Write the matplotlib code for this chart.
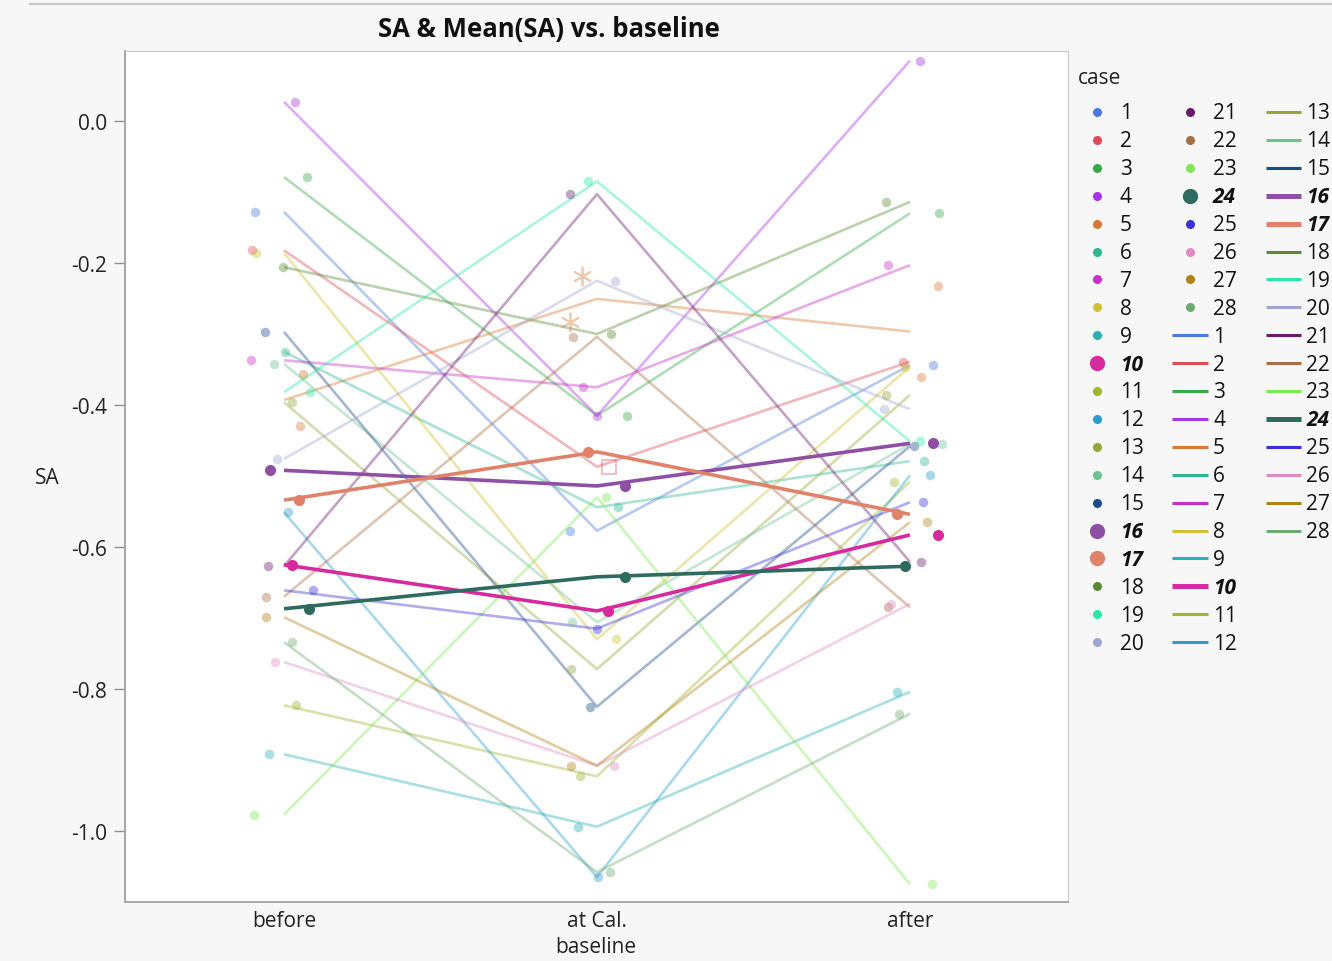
import numpy as np
import pandas as pd
import matplotlib
matplotlib.use("Agg")
import matplotlib.pyplot as plt
from matplotlib.lines import Line2D

plt.rcParams['font.family'] = ['Open Sans', 'DejaVu Sans']

# ---------------- data ----------------
baselines = ["before", "at Cal.", "after"]
cases = list(range(1, 29))
highlight = [10, 16, 17, 24]

# one SA value per case and baseline (cases 1..28)
sa_before = [-0.128, -0.182, -0.079, 0.027, -0.356, -0.325, -0.337, -0.186, -0.892, -0.625,
             -0.823, -0.551, -0.396, -0.342, -0.297, -0.492, -0.534, -0.206, -0.382, -0.476,
             -0.627, -0.670, -0.977, -0.687, -0.661, -0.762, -0.699, -0.734]
sa_atcal = [-0.577, -0.487, -0.415, -0.415, -0.218, -0.544, -0.375, -0.730, -0.994, -0.690,
            -0.923, -1.065, -0.772, -0.706, -0.825, -0.514, -0.466, -0.300, -0.085, -0.225,
            -0.103, -0.304, -0.530, -0.642, -0.715, -0.908, -0.908, -1.058]
sa_after = [-0.344, -0.339, -0.130, 0.085, -0.232, -0.479, -0.203, -0.346, -0.804, -0.583,
            -0.508, -0.499, -0.386, -0.455, -0.458, -0.454, -0.554, -0.114, -0.451, -0.406,
            -0.621, -0.685, -1.075, -0.627, -0.537, -0.680, -0.565, -0.835]

# extra (repeated) measurements
extra_case = [5, 5, 5]
extra_base = [0, 1, 2]
extra_sa = [-0.430, -0.283, -0.361]

# horizontal jitter of the points (fraction of category spacing)
jit_before = [-0.093, -0.102, 0.073, 0.035, 0.061, 0.003, -0.105, -0.089, -0.048, 0.026,
              0.038, 0.013, 0.026, -0.032, -0.061, -0.045, 0.048, -0.003, 0.083, -0.022,
              -0.051, -0.058, -0.096, 0.080, 0.093, -0.029, -0.058, 0.026]
jit_atcal = [-0.086, 0.038, 0.096, 0.0, -0.048, 0.067, -0.045, 0.061, -0.061, 0.035,
             -0.054, 0.003, -0.083, -0.080, -0.022, 0.089, -0.029, 0.045, -0.029, 0.058,
             -0.086, -0.077, 0.029, 0.089, 0.0, 0.054, -0.083, 0.042]
jit_after = [0.073, -0.022, 0.093, 0.032, 0.089, 0.045, -0.070, -0.016, -0.042, 0.089,
             -0.051, 0.064, -0.077, 0.102, 0.013, 0.073, -0.042, -0.077, 0.032, -0.083,
             0.035, -0.070, 0.070, -0.016, 0.042, -0.061, 0.054, -0.035]
extra_jit = [0.051, -0.086, 0.035]

colors = ['#4A78DE', '#DC4B5A', '#38A849', '#A834E2', '#D87A35', '#2DB893', '#C72FC9',
          '#CEC235', '#2AB0B5', '#D62A9E', '#9DB530', '#2E9BCB', '#98A53A', '#6DC390',
          '#1F4A8A', '#8E4FA5', '#E0826A', '#5B8A35', '#2BE8A7', '#9EA6CF', '#6B1A6A',
          '#A66E46', '#7FE856', '#2E6B5E', '#3A2FD8', '#E08BC3', '#AF8315', '#70AA73']

# rows with a non-default marker
marker_override = {(2, 1): 's', (5, 1): (6, 2, 0)}

# ---------------- table ----------------
rows = []
for i, c in enumerate(cases):
    rows.append((c, 0, sa_before[i], jit_before[i]))
    rows.append((c, 1, sa_atcal[i], jit_atcal[i]))
    rows.append((c, 2, sa_after[i], jit_after[i]))
for c, b, v, j in zip(extra_case, extra_base, extra_sa, extra_jit):
    rows.append((c, b, v, j))
df = pd.DataFrame(rows, columns=["case", "base", "SA", "jit"])
means = df.groupby(["case", "base"])["SA"].mean().unstack()

W, H = 1332, 962
FS = 15
fig = plt.figure(figsize=(W / 100, H / 100), dpi=100, facecolor='#F7F7F7')
ax = fig.add_axes([125 / W, 1 - 903 / H, (1068 - 125) / W, (903 - 52) / H])
ax.set_facecolor('white')
ax.set_xlim(-0.508, 2.505)
ax.set_ylim(-1.1, 0.0986)

FADE = 0.4


def draw_case(c, strong):
    col = colors[c - 1]
    alpha = 1.0 if strong else FADE
    lw = 2.6 if strong else 1.9
    z = 5 if strong else 2
    ax.plot(range(3), means.loc[c].values, color=col, alpha=alpha, lw=lw, zorder=z,
            solid_capstyle='butt')
    sub = df[df.case == c]
    for _, r in sub.iterrows():
        mk = marker_override.get((c, int(r.base)), 'o')
        x = r.base + r.jit
        if mk == 's':
            ax.plot(x, r.SA, marker='s', ms=10, mfc='none', mec=col, mew=1.3,
                    alpha=alpha, zorder=z + 1)
        elif mk != 'o':
            ax.plot(x, r.SA, marker=mk, ms=14, color=col, mew=1.3, alpha=alpha,
                    zorder=z + 1)
        else:
            ax.plot(x, r.SA, 'o', ms=8 if strong else 6.8, color=col, mec='none',
                    alpha=alpha, zorder=z + 1)


for c in cases:
    if c not in highlight:
        draw_case(c, False)
for c in highlight:
    draw_case(c, True)

# axes styling
for s in ['top', 'right']:
    ax.spines[s].set_color('#C8C8C8')
for s in ['left', 'bottom']:
    ax.spines[s].set_color('#A0A0A0')
    ax.spines[s].set_linewidth(1.3)
yt = np.arange(-1.0, 0.01, 0.2)
ax.set_xticks(range(3))
ax.set_xticklabels(baselines)
ax.set_yticks(yt)
ax.set_yticklabels([f"{v:.1f}" if abs(v) > 1e-9 else "0.0" for v in yt])
ax.tick_params(axis='x', length=0, pad=6, labelsize=FS, colors='#222222')
ax.tick_params(axis='y', length=8, width=1, color='#909090', pad=5, labelsize=FS,
               labelcolor='#222222')

fig.text(549 / W, 1 - 30 / H, "SA & Mean(SA) vs. baseline", ha='center', va='center',
         fontsize=18.5, fontweight='bold', color='#111111')
fig.text(47 / W, 1 - 478 / H, "SA", ha='center', va='center', fontsize=FS, color='#222222')
fig.text(596 / W, 1 - 948 / H, "baseline", ha='center', va='center', fontsize=FS,
         color='#222222')
fig.add_artist(Line2D([30 / W, 1], [1 - 5 / H, 1 - 5 / H], color='#C8C8C8', lw=1.5))

# ---------------- legend ----------------
fig.text(1078 / W, 1 - 79 / H, "case", ha='left', va='center', fontsize=FS, color='#222222')
row0, dy = 114, 27.9


def leg_text(px, py, c):
    strong = c in highlight
    fig.text(px / W, 1 - py / H, str(c), ha='left', va='center', fontsize=FS,
             fontweight='bold' if strong else 'normal',
             fontstyle='italic' if strong else 'normal', color='#111111')


def leg_marker(cx, tx, py, c):
    strong = c in highlight
    fig.add_artist(Line2D([cx / W], [1 - (py - 1) / H], marker='o',
                          ms=11 if strong else 6.5, color=colors[c - 1], mec='none', lw=0))
    leg_text(tx, py, c)


def leg_line(x0, x1, tx, py, c):
    strong = c in highlight
    fig.add_artist(Line2D([x0 / W, x1 / W], [1 - (py - 1) / H] * 2, color=colors[c - 1],
                          lw=3.6 if strong else 2.2, solid_capstyle='butt'))
    leg_text(tx, py, c)


for i, c in enumerate(cases[:20]):
    leg_marker(1097, 1120, row0 + i * dy, c)
for i, c in enumerate(cases[20:]):
    leg_marker(1190, 1213, row0 + i * dy, c)
for i, c in enumerate(cases[:12]):
    leg_line(1172, 1208, 1213, row0 + (8 + i) * dy, c)
for i, c in enumerate(cases[12:]):
    leg_line(1266, 1301, 1306, row0 + i * dy, c)

fig.savefig("out.png", dpi=100, facecolor=fig.get_facecolor())
